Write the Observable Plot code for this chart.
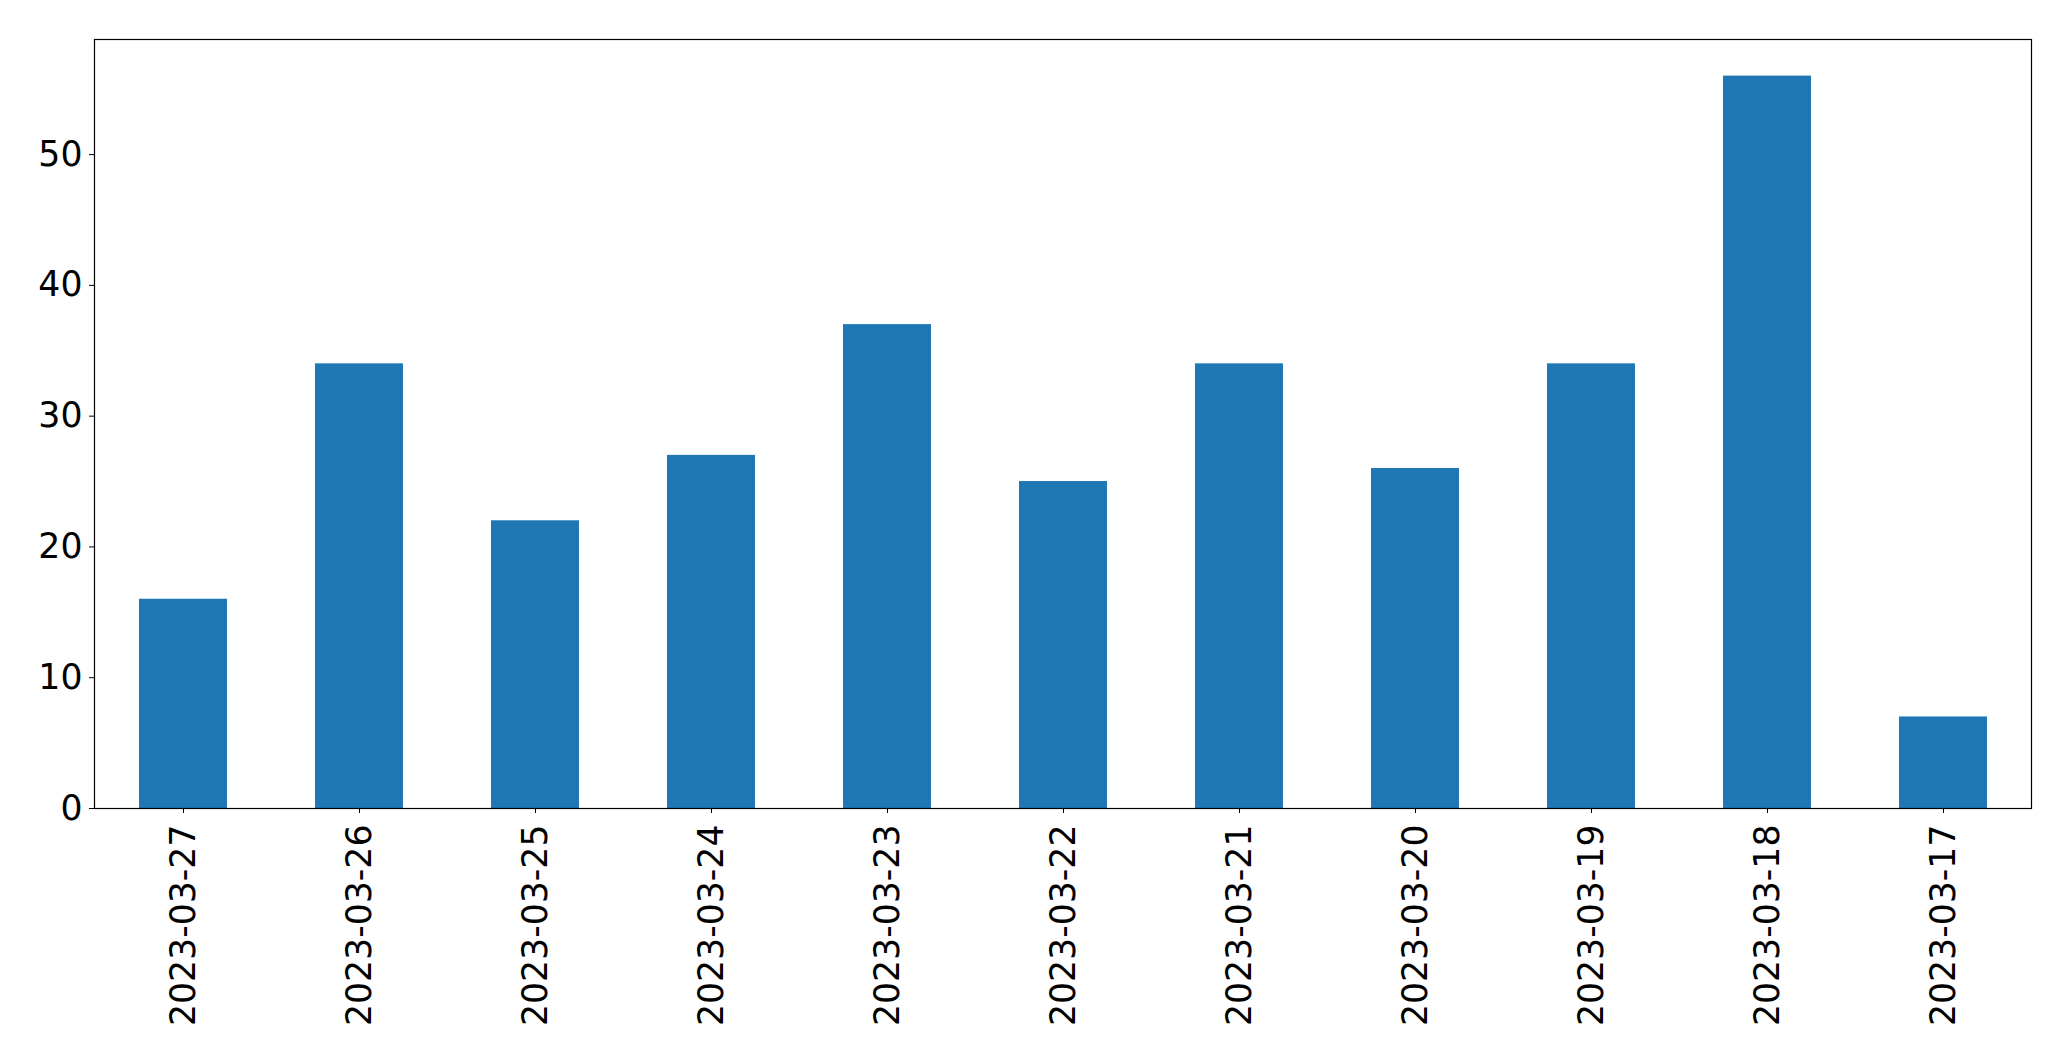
<!DOCTYPE html>
<html>
<head>
<meta charset="utf-8">
<script src="https://cdn.jsdelivr.net/npm/d3@7"></script>
<script src="https://cdn.jsdelivr.net/npm/@observablehq/plot@0.6"></script>
<style>
  html, body { margin: 0; padding: 0; background: white; }
</style>
</head>
<body>
<div id="chart"></div>
<script>
const dates = ["2023-03-27", "2023-03-26", "2023-03-25", "2023-03-24", "2023-03-23", "2023-03-22", "2023-03-21", "2023-03-20", "2023-03-19", "2023-03-18", "2023-03-17"];
const counts = [16, 34, 22, 27, 37, 25, 34, 26, 34, 56, 7];
const yTicks = [0, 10, 20, 30, 40, 50];

const data = dates.map((d, i) => ({date: d, count: counts[i]}));

const chart = Plot.plot({
  width: 2071,
  height: 1061,
  marginLeft: 94,
  marginRight: 40,
  marginTop: 39,
  marginBottom: 253,
  style: {fontFamily: "DejaVu Sans", fontSize: "34.7px", color: "black", background: "white"},
  x: {domain: dates, paddingInner: 0.5, paddingOuter: 0.25, label: null},
  y: {domain: [0, 58.8], label: null},
  marks: [
    Plot.barY(data, {x: "date", y: "count", fill: "#1f77b4"}),
    Plot.frame({stroke: "black", strokeWidth: 1.2}),
    Plot.axisY({ticks: yTicks, tickSize: 5, tickPadding: 7, label: null, fontSize: 34.7, stroke: "black", fill: "black"}),
    Plot.axisX({tickRotate: -90, tickSize: 5, tickPadding: 11, label: null, fontSize: 34.7, stroke: "black", fill: "black"})
  ]
});
document.getElementById("chart").appendChild(chart);
</script>
</body>
</html>
